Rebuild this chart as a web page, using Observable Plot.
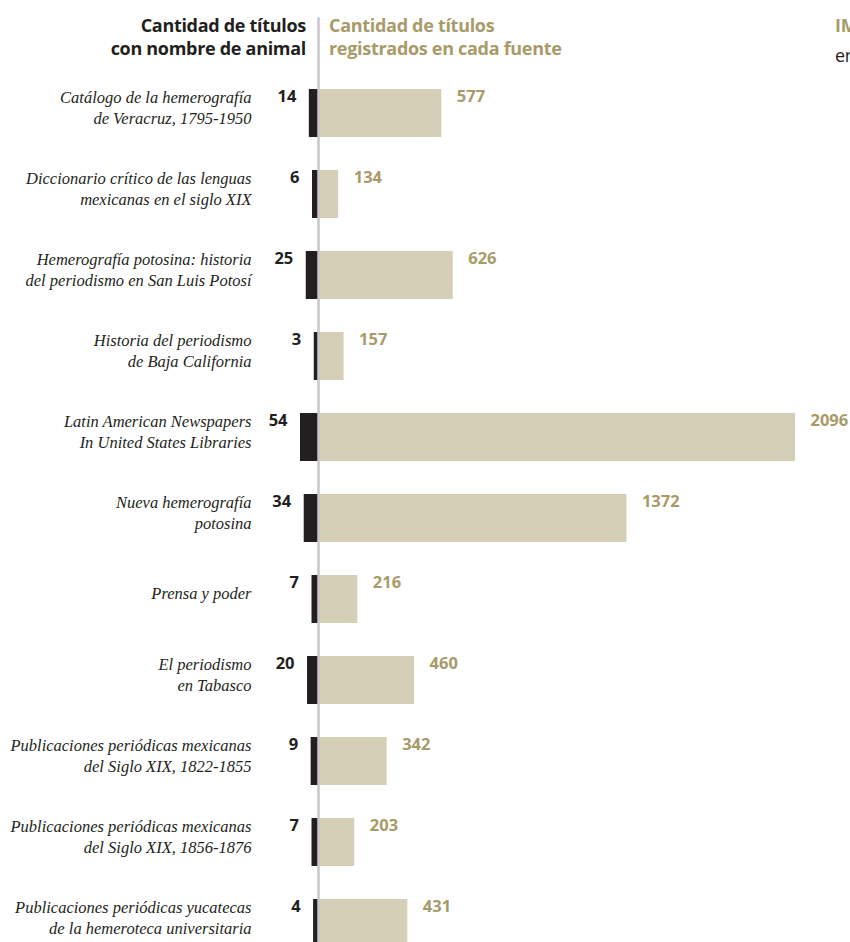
<!DOCTYPE html>
<html><head><meta charset="utf-8">
<script src="https://cdn.jsdelivr.net/npm/d3@7"></script>
<script src="https://cdn.jsdelivr.net/npm/@observablehq/plot@0.6"></script>
<style>
body{margin:0;background:#fff}
#chart{position:relative;width:850px;height:942px;overflow:hidden;background:#fff}
#chart svg{position:absolute;left:0;top:0;background:transparent}
.hd{position:absolute;font-family:"Open Sans",sans-serif;font-weight:700;font-size:18px;line-height:23px;white-space:nowrap;letter-spacing:-0.3px}
</style></head><body><div id="chart"></div>
<script>
const fuentes = [
  "Catálogo de la hemerografía\nde Veracruz, 1795-1950",
  "Diccionario crítico de las lenguas\nmexicanas en el siglo XIX",
  "Hemerografía potosina: historia\ndel periodismo en San Luis Potosí",
  "Historia del periodismo\nde Baja California",
  "Latin American Newspapers\nIn United States Libraries",
  "Nueva hemerografía\npotosina",
  "Prensa y poder",
  "El periodismo\nen Tabasco",
  "Publicaciones periódicas mexicanas\ndel Siglo XIX, 1822-1855",
  "Publicaciones periódicas mexicanas\ndel Siglo XIX, 1856-1876",
  "Publicaciones periódicas yucatecas\nde la hemeroteca universitaria"
];
const conAnimal = [14, 6, 25, 3, 54, 34, 7, 20, 9, 7, 4];
const registrados = [577, 134, 626, 157, 2096, 1372, 216, 460, 342, 203, 431];

const headerLeft = ["Cantidad de títulos", "con nombre de animal"];
const headerRight = ["Cantidad de títulos", "registrados en cada fuente"];
const headerCut = ["IM", "en"];

const data = fuentes.map((f, i) => ({fuente: f, animal: conAnimal[i], total: registrados[i]}));

const gold = "#a89b69";
const beige = "#d5cfb8";
const dark = "#231f20";
const W = 850, H = 942;
const yScale = {type: "band", domain: fuentes, range: [88, 947], paddingInner: 0.408, paddingOuter: 0, axis: null, label: null};
const numFont = {fontFamily: "Open Sans", fontWeight: 700, fontSize: 16.5};

const left = Plot.plot({
  width: W, height: H,
  marginLeft: 251, marginTop: 0, marginBottom: 0, marginRight: 0,
  style: {background: "transparent"},
  x: {type: "sqrt", domain: [0, 54], range: [318, 300], axis: null},
  y: yScale,
  marks: [
    Plot.axisY({anchor: "left", label: null, tickSize: 0, tickPadding: 0, fontSize: 16.5, fontStyle: "italic",
      fontFamily: "Liberation Serif", lineHeight: 1.3, dy: -7, fill: "#231f20", textAnchor: "end"}),
    Plot.barX(data, {x: "animal", y: "fuente", fill: dark}),
    Plot.text(data, {x: "animal", y: "fuente", text: d => String(d.animal), textAnchor: "end", dx: -13, dy: -17, fill: dark, ...numFont})
  ]
});

const right = Plot.plot({
  width: W, height: H,
  marginLeft: 318, marginTop: 18, marginBottom: 0, marginRight: 0,
  style: {background: "transparent"},
  x: {domain: [0, 2096], range: [307, 795], axis: null},
  y: yScale,
  marks: [
    Plot.barX(data, {x: "total", y: "fuente", fill: beige, clip: true}),
    Plot.frame({anchor: "left", stroke: "#c7c7cb", strokeWidth: 2.5}),
    Plot.text(data, {x: "total", y: "fuente", text: d => String(d.total), textAnchor: "start", dx: 15, dy: -17, fill: gold, ...numFont})
  ]
});

const chart = document.getElementById("chart");
chart.append(left, right);

function header(lines, style, color) {
  const d = document.createElement("div");
  d.className = "hd";
  Object.assign(d.style, style);
  d.style.color = color;
  d.innerHTML = lines.join("<br>");
  chart.append(d);
  return d;
}
header(headerLeft, {right: (W - 306) + "px", top: "14px", textAlign: "right"}, dark);
header(headerRight, {left: "329px", top: "14px", textAlign: "left"}, gold);
header([headerCut[0]], {left: "835px", top: "14px"}, gold);
const e = header([headerCut[1]], {left: "835px", top: "44px"}, dark);
e.style.fontWeight = 400;
</script></body></html>
